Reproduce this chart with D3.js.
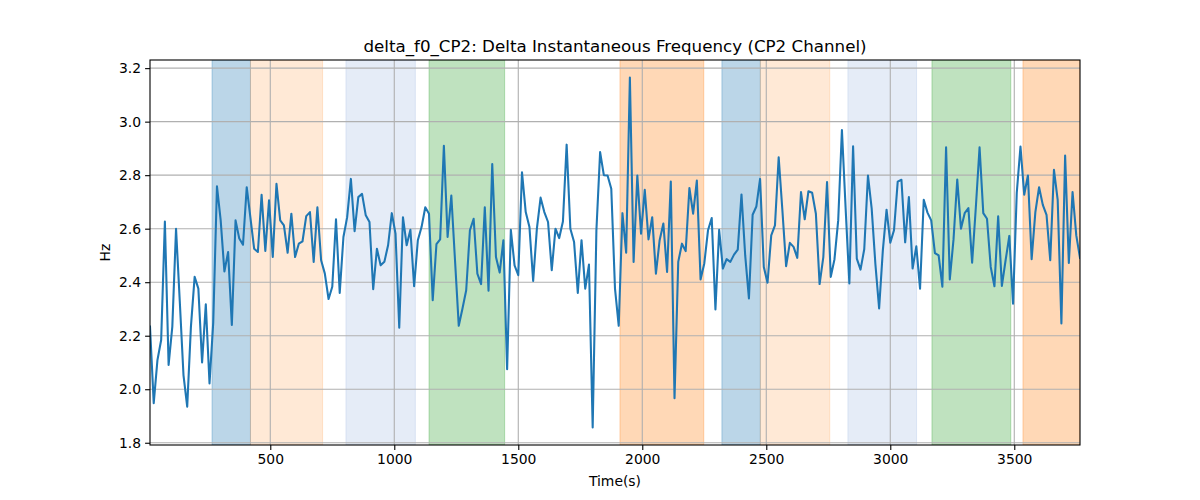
<!DOCTYPE html>
<html>
<head>
<meta charset="utf-8">
<script src="https://cdn.jsdelivr.net/npm/d3@7"></script>
<style>
  html, body { margin: 0; padding: 0; background: #ffffff; }
  svg { display: block; font-family: "DejaVu Sans", sans-serif; }
</style>
</head>
<body>
<svg id="chart" width="1200" height="500"></svg>
<script>
// ---- data ----
const timeStart = 15;       // first sample time (s)
const timeStep = 15;        // sampling interval (s)
const deltaF0 = [
  2.234, 1.948, 2.109, 2.184, 2.627, 2.091, 2.234, 2.600, 2.330, 2.053,
  1.935, 2.234, 2.420, 2.376, 2.100, 2.317, 2.022, 2.250, 2.758, 2.631,
  2.440, 2.513, 2.240, 2.631, 2.563, 2.540, 2.755, 2.640, 2.525, 2.513,
  2.727, 2.517, 2.706, 2.494, 2.768, 2.631, 2.612, 2.510, 2.656, 2.494,
  2.544, 2.553, 2.647, 2.662, 2.476, 2.680, 2.482, 2.432, 2.337, 2.383,
  2.635, 2.360, 2.569, 2.643, 2.786, 2.591, 2.718, 2.730, 2.650, 2.625,
  2.374, 2.525, 2.463, 2.476, 2.538, 2.658, 2.581, 2.230, 2.643, 2.538,
  2.596, 2.385, 2.557, 2.606, 2.680, 2.656, 2.333, 2.542, 2.560, 2.910,
  2.569, 2.724, 2.480, 2.237, 2.302, 2.370, 2.594, 2.637, 2.432, 2.393,
  2.680, 2.368, 2.842, 2.494, 2.436, 2.557, 2.075, 2.596, 2.463, 2.426,
  2.811, 2.662, 2.606, 2.405, 2.600, 2.716, 2.662, 2.625, 2.445, 2.600,
  2.565, 2.627, 2.914, 2.600, 2.550, 2.360, 2.557, 2.376, 2.466, 1.857,
  2.594, 2.886, 2.800, 2.799, 2.749, 2.376, 2.237, 2.658, 2.510, 3.165,
  2.476, 2.799, 2.581, 2.745, 2.560, 2.643, 2.432, 2.557, 2.619, 2.438,
  2.776, 1.966, 2.476, 2.544, 2.516, 2.752, 2.656, 2.780, 2.410, 2.470,
  2.594, 2.640, 2.298, 2.596, 2.451, 2.486, 2.476, 2.503, 2.522, 2.728,
  2.500, 2.339, 2.652, 2.683, 2.786, 2.457, 2.398, 2.575, 2.612, 2.867,
  2.668, 2.460, 2.547, 2.532, 2.491, 2.737, 2.635, 2.740, 2.734, 2.656,
  2.393, 2.494, 2.774, 2.420, 2.486, 2.631, 2.969, 2.675, 2.395, 2.908,
  2.488, 2.447, 2.523, 2.799, 2.675, 2.467, 2.302, 2.519, 2.671, 2.548,
  2.594, 2.776, 2.783, 2.549, 2.718, 2.451, 2.534, 2.376, 2.708, 2.660,
  2.631, 2.509, 2.500, 2.383, 2.904, 2.410, 2.560, 2.784, 2.600, 2.658,
  2.677, 2.473, 2.680, 2.904, 2.658, 2.637, 2.457, 2.385, 2.646, 2.386,
  2.482, 2.573, 2.320, 2.734, 2.907, 2.727, 2.799, 2.486, 2.662, 2.755,
  2.689, 2.652, 2.482, 2.820, 2.708, 2.246, 2.873, 2.472, 2.737, 2.575,
  2.491
];
const spanStarts = [265, 420, 805, 1140, 1910, 2321, 2476, 2829, 3168, 3535];
const spanEnds   = [420, 711, 1085, 1445, 2248, 2476, 2756, 3106, 3486, 3765];
const spanKinds  = ["blue", "lorange", "lblue", "green", "orange", "blue", "lorange", "lblue", "green", "orange"];
const xTicks = [500, 1000, 1500, 2000, 2500, 3000, 3500];
const yTicks = [1.8, 2.0, 2.2, 2.4, 2.6, 2.8, 3.0, 3.2];
const titleText = "delta_f0_CP2: Delta Instantaneous Frequency (CP2 Channel)";
const xLabelText = "Time(s)";
const yLabelText = "Hz";

// ---- styles ----
const spanFill = {
  blue:    { color: "#1f77b4", alpha: 0.30 },
  lorange: { color: "#ff7f0e", alpha: 0.17 },
  lblue:   { color: "#7f9fd8", alpha: 0.20 },
  green:   { color: "#2ca02c", alpha: 0.30 },
  orange:  { color: "#ff7f0e", alpha: 0.30 }
};

const points = deltaF0.map((v, i) => ({ t: timeStart + i * timeStep, v }));

const margin = { left: 150, right: 120, top: 60, bottom: 55 };
const W = 1200, H = 500;
const svg = d3.select("#chart");

const tMin = d3.min(points, d => d.t), tMax = d3.max(points, d => d.t);
const vMin = d3.min(deltaF0), vMax = d3.max(deltaF0);
const pad = (vMax - vMin) * 0.05;

const x = d3.scaleLinear().domain([tMin, tMax]).range([margin.left, W - margin.right]);
const y = d3.scaleLinear().domain([vMin - pad, vMax + pad]).range([H - margin.bottom, margin.top]);

const plot = svg.append("g");
svg.append("defs").append("clipPath").attr("id", "clip")
  .append("rect").attr("x", margin.left).attr("y", margin.top)
  .attr("width", W - margin.left - margin.right).attr("height", H - margin.top - margin.bottom);

// spans
const spans = spanStarts.map((s, i) => ({ s, e: spanEnds[i], k: spanKinds[i] }));
plot.append("g").attr("clip-path", "url(#clip)")
  .selectAll("rect").data(spans).join("rect")
  .attr("x", d => x(d.s))
  .attr("width", d => x(d.e) - x(d.s))
  .attr("y", margin.top)
  .attr("height", H - margin.top - margin.bottom)
  .attr("fill", d => spanFill[d.k].color)
  .attr("fill-opacity", d => spanFill[d.k].alpha)
  .attr("stroke", d => spanFill[d.k].color)
  .attr("stroke-opacity", d => spanFill[d.k].alpha)
  .attr("stroke-width", 1);

// grid
const grid = plot.append("g");
grid.selectAll("line.gx").data(xTicks).join("line")
  .attr("x1", d => x(d)).attr("x2", d => x(d))
  .attr("y1", margin.top).attr("y2", H - margin.bottom)
  .attr("stroke", "#b0b0b0").attr("stroke-width", 1.1);
grid.selectAll("line.gy").data(yTicks).join("line")
  .attr("x1", margin.left).attr("x2", W - margin.right)
  .attr("y1", d => y(d)).attr("y2", d => y(d))
  .attr("stroke", "#b0b0b0").attr("stroke-width", 1.1);

// line
const line = d3.line().x(d => x(d.t)).y(d => y(d.v));
plot.append("path").datum(points)
  .attr("clip-path", "url(#clip)")
  .attr("d", line)
  .attr("fill", "none")
  .attr("stroke", "#1f77b4")
  .attr("stroke-width", 2.08)
  .attr("stroke-linejoin", "round")
  .attr("stroke-linecap", "square");

// axes
const xAxis = d3.axisBottom(x).tickValues(xTicks).tickFormat(d3.format("d")).tickSizeOuter(0).tickSize(4.9).tickPadding(4);
const yAxis = d3.axisLeft(y).tickValues(yTicks).tickFormat(d3.format(".1f")).tickSizeOuter(0).tickSize(4.9).tickPadding(4);

const gx = svg.append("g").attr("transform", `translate(0,${H - margin.bottom})`).call(xAxis);
const gy = svg.append("g").attr("transform", `translate(${margin.left},0)`).call(yAxis);
[gx, gy].forEach(g => {
  g.select(".domain").remove();
  g.selectAll(".tick line").attr("stroke", "#000").attr("stroke-width", 1.1);
  g.selectAll(".tick text").attr("fill", "#000").style("font-size", "13.9px").style("font-family", "'DejaVu Sans', sans-serif");
});

// frame
svg.append("rect")
  .attr("x", margin.left).attr("y", margin.top)
  .attr("width", W - margin.left - margin.right)
  .attr("height", H - margin.top - margin.bottom)
  .attr("fill", "none").attr("stroke", "#000").attr("stroke-width", 1.1);

// title & labels
svg.append("text").attr("x", (margin.left + W - margin.right) / 2).attr("y", 52)
  .attr("text-anchor", "middle").style("font-size", "16.7px").attr("fill", "#000")
  .text(titleText);
svg.append("text").attr("x", (margin.left + W - margin.right) / 2).attr("y", 486)
  .attr("text-anchor", "middle").style("font-size", "13.9px").attr("fill", "#000")
  .text(xLabelText);
svg.append("text")
  .attr("transform", `translate(110,${(margin.top + H - margin.bottom) / 2}) rotate(-90)`)
  .attr("text-anchor", "middle").style("font-size", "13.9px").attr("fill", "#000")
  .text(yLabelText);
</script>
</body>
</html>
